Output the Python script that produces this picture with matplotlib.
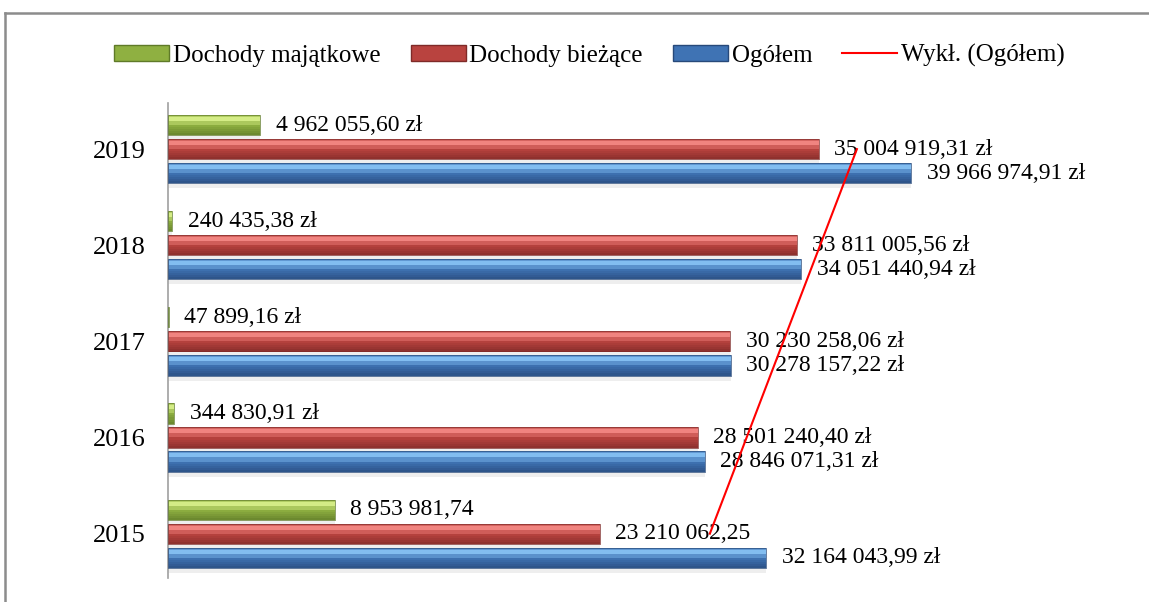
"""Dochody gminy 2015-2019: słupki poziome z linią trendu wykładniczego."""
import matplotlib

matplotlib.use("Agg")
import matplotlib.pyplot as plt  # noqa: E402
import numpy as np  # noqa: E402
from matplotlib.colors import to_rgb  # noqa: E402
from matplotlib.lines import Line2D  # noqa: E402
from matplotlib.patches import Patch  # noqa: E402

plt.rcParams["font.family"] = ["Liberation Serif", "DejaVu Serif"]

# Dane
years = ["2015", "2016", "2017", "2018", "2019"]
majatkowe = [8953981.74, 344830.91, 47899.16, 240435.38, 4962055.60]
biezace = [23210062.25, 28501240.40, 30230258.06, 33811005.56, 35004919.31]
ogolem = [32164043.99, 28846071.31, 30278157.22, 34051440.94, 39966974.91]

# W 2015 etykiety dwóch serii są bez "zł"
suffix_majatkowe = [False, True, True, True, True]
suffix_biezace = [False, True, True, True, True]
suffix_ogolem = [True, True, True, True, True]

series_names = ["Dochody majątkowe", "Dochody bieżące", "Ogółem"]
trend_name = "Wykł. (Ogółem)"

# kolory: (główny, jasny u góry, ciemny u dołu)
COLORS = {
    "green": ("#8fb041", "#d4ec86", "#5f7a28"),
    "red": ("#b9433f", "#f08480", "#7f2a28"),
    "blue": ("#3f73b4", "#82bdf0", "#27497a"),
}


def fmt_pln(v, suffix=True):
    s = f"{v:,.2f}".replace(",", " ").replace(".", ",")
    return s + " zł" if suffix else s


def _mix(c1, c2, t):
    a, b = np.array(to_rgb(c1)), np.array(to_rgb(c2))
    return tuple(a + (b - a) * t)


def bevel_barh(ax, y, values, height, colors, n=10):
    """Słupek z efektem wypukłości: pionowy gradient z pasków."""
    main, light, dark = colors
    # cień pod słupkiem
    ax.barh(y - height * 0.25, values, height=height, color="#cfcfcf",
            alpha=0.35, zorder=1, linewidth=0)
    edges = np.linspace(y + height / 2, y - height / 2, n + 1)
    for k in range(n):
        t = (k + 0.5) / n
        if t < 0.15:
            col = _mix(main, light, 0.5)
        elif t < 0.35:
            col = light
        elif t < 0.5:
            col = _mix(light, main, 0.6)
        else:
            col = _mix(main, dark, (t - 0.5) / 0.5 * 0.8)
        hk = edges[k] - edges[k + 1]
        ax.barh((edges[k] + edges[k + 1]) / 2, values, height=hk * 1.05,
                color=col, zorder=2, linewidth=0)
    ax.barh(y, values, height=height, fill=False, edgecolor=dark,
            linewidth=0.5, zorder=3)


fig = plt.figure(figsize=(11.49, 6.02), dpi=100)
ax = fig.add_axes([0.1462, 0.04, 0.7285, 0.789])

pos = np.arange(len(years))
h = 0.21
off = 0.25

bevel_barh(ax, pos + off, majatkowe, h, COLORS["green"])
bevel_barh(ax, pos, biezace, h, COLORS["red"])
bevel_barh(ax, pos - off, ogolem, h, COLORS["blue"])

for vals, sfx, dy in [(majatkowe, suffix_majatkowe, off),
                      (biezace, suffix_biezace, 0.0),
                      (ogolem, suffix_ogolem, -off)]:
    for i, v in enumerate(vals):
        ax.annotate(fmt_pln(v, sfx[i]), (v, pos[i] + dy),
                    xytext=(11, 0), textcoords="offset points",
                    ha="left", va="center", fontsize=17, zorder=5)

# Linia trendu wykładniczego dla "Ogółem"
t = np.arange(1, len(years) + 1)
b, a = np.polyfit(t, np.log(ogolem), 1)
trend = np.exp(a + b * t)
ax.plot([trend[0], trend[-1]], [pos[0], pos[-1]], color="red", lw=1.5,
        zorder=6)

ax.set_xlim(0, 45e6)
ax.set_ylim(-0.46, 4.48)
ax.set_yticks(pos)
ax.set_yticklabels(years, fontsize=19)
ax.tick_params(axis="y", length=0, pad=16)
ax.set_xticks([])
for side in ["top", "right", "bottom"]:
    ax.spines[side].set_visible(False)
ax.spines["left"].set_color("#a0a0a0")
ax.spines["left"].set_linewidth(1.2)

handles = [
    Patch(facecolor=COLORS["green"][0], edgecolor=COLORS["green"][2]),
    Patch(facecolor=COLORS["red"][0], edgecolor=COLORS["red"][2]),
    Patch(facecolor=COLORS["blue"][0], edgecolor=COLORS["blue"][2]),
    Line2D([0], [0], color="red", lw=1.5),
]
fig.legend(handles, series_names + [trend_name], loc="center",
           bbox_to_anchor=(0.513, 0.908), ncol=4, frameon=False, fontsize=18,
           handlelength=2.2, handleheight=0.6, handletextpad=0.15,
           columnspacing=1.2)

# ramka wykresu (widoczna tylko u góry i z lewej)
fig.add_artist(Line2D([5 / 1149, 1.0], [1 - 13 / 602, 1 - 13 / 602],
                      color="#8c8c8c", lw=1.8, transform=fig.transFigure))
fig.add_artist(Line2D([5 / 1149, 5 / 1149], [0.0, 1 - 13 / 602],
                      color="#8c8c8c", lw=1.8, transform=fig.transFigure))

fig.savefig("out.png", dpi=100)
